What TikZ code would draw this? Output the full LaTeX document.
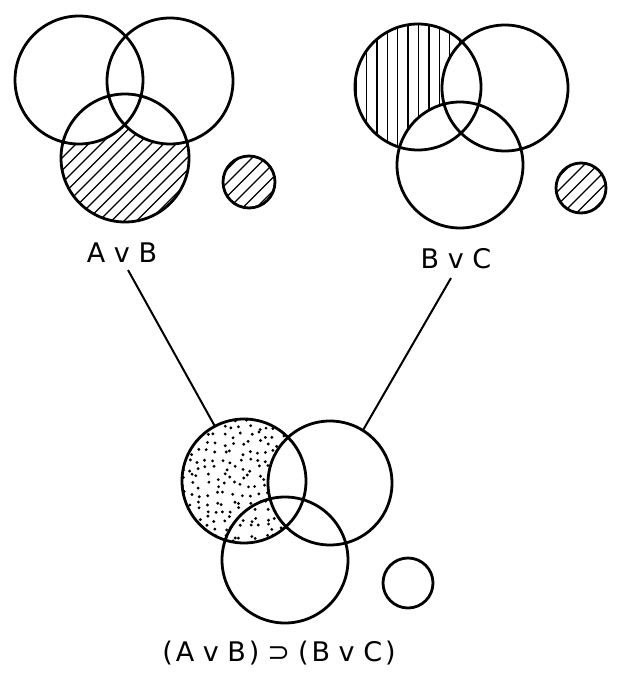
\documentclass[tikz,border=0pt]{standalone}
\usepackage{fontspec}
\setmainfont{DejaVu Sans}
\begin{document}
\begin{tikzpicture}[x=1pt,y=-1pt,
  ring/.style={circle,draw,line width=2.8pt,inner sep=0pt,outer sep=0pt},
  hatch/.style={line width=1.4pt},
  dotfill/.style={fill=black},
  lbl/.style={inner sep=0pt,font=\fontsize{27}{30}\selectfont},
  conn/.style={line width=2pt}]
\useasboundingbox (0,0) rectangle (619,680);
% ---------- top-left: C minus (A or B) hatched ----------
\begin{scope}[even odd rule]
  \clip (125,158) circle[radius=64pt];
  \clip (0,0) rectangle (619,680) (79,80) circle[radius=64pt];
  \clip (0,0) rectangle (619,680) (170,81) circle[radius=63pt];
  \foreach \k in {-14,...,12} \draw[hatch] (60+\k*12.5,235) -- ++(150,-150);
\end{scope}
\begin{scope}
  \clip (249,182) circle[radius=26pt];
  \foreach \k in {-5,...,3} \draw[hatch] (225+\k*13.5,212) -- ++(60,-60);
\end{scope}
\node[ring,minimum size=128pt] (tA) at (79,80) {};
\node[ring,minimum size=126pt] (tB) at (170,81) {};
\node[ring,minimum size=128pt] (tC) at (125,158) {};
\node[ring,minimum size=52pt] (tD) at (249,182) {};
\node[lbl] (lAB) at (122,253) {A v B};
% ---------- top-right: A minus (B or C) vertical hatch ----------
\begin{scope}[even odd rule]
  \clip (418,87) circle[radius=63pt];
  \clip (0,0) rectangle (619,680) (505,88) circle[radius=63pt];
  \clip (0,0) rectangle (619,680) (460,165) circle[radius=63pt];
  \foreach \k in {0,...,12} \draw[hatch] (356+\k*10.4,15) -- ++(0,150);
\end{scope}
\begin{scope}
  \clip (581,188) circle[radius=25pt];
  \foreach \k in {-5,...,3} \draw[hatch] (558+\k*13.5,218) -- ++(60,-60);
\end{scope}
\node[ring,minimum size=126pt] (rA) at (418,87) {};
\node[ring,minimum size=126pt] (rB) at (505,88) {};
\node[ring,minimum size=126pt] (rC) at (460,165) {};
\node[ring,minimum size=50pt] (rD) at (581,188) {};
\node[lbl] (lBC) at (456,259) {B v C};
% ---------- bottom: A minus B stippled ----------
\begin{scope}[even odd rule]
  \clip (244,481) circle[radius=62pt];
  \clip (0,0) rectangle (619,680) (330,483) circle[radius=62pt];
  \pgfmathsetseed{7}
  \foreach \i in {0,...,15} {
    \foreach \j in {0,...,15} {
      \pgfmathsetmacro\px{182+\i*8.4+3.2*rand}
      \pgfmathsetmacro\py{418+\j*8.4+3.2*rand}
      \fill[dotfill] (\px,\py) circle[radius=1.6pt];
    }
  }
\end{scope}
\node[ring,minimum size=124pt] (bA) at (244,481) {};
\node[ring,minimum size=124pt] (bB) at (330,483) {};
\node[ring,minimum size=126pt] (bC) at (285,560) {};
\node[ring,minimum size=50pt] (bD) at (408,583) {};
\node[lbl] (lImp) at (279,653) {(\kern3pt A v B\kern3pt)\hspace{8pt}⊃\hspace{8pt}(\kern3pt B v C\kern3pt)};
% ---------- connectors ----------
\coordinate (tl) at (128,270);
\coordinate (tr) at (451,278);
\draw[conn] (tl) -- (bA.118);
\draw[conn] (tr) -- (bB.58);
\end{tikzpicture}
\end{document}
